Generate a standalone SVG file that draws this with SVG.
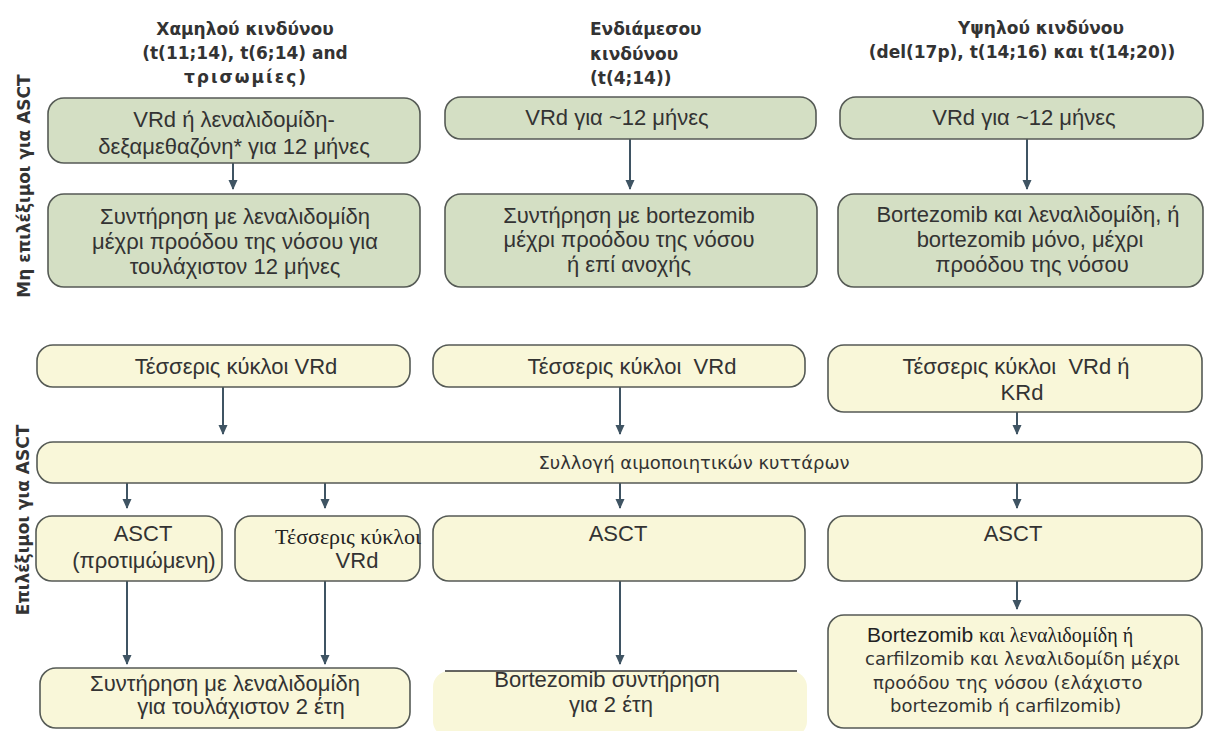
<svg xmlns="http://www.w3.org/2000/svg" width="1205" height="731" viewBox="0 0 1205 731">
  <style>
    .g { fill: #d4dfc4; stroke: #555a55; stroke-width: 1.6; }
    .y { fill: #f9f7d9; stroke: #555a55; stroke-width: 1.6; }
    .yf { fill: #f9f7d9; stroke: none; }
    .t { font-family: "Liberation Sans", Arial, sans-serif; font-size: 22px; fill: #333333; text-anchor: middle; }
    .d { font-family: "DejaVu Sans", Verdana, sans-serif; font-size: 18px; fill: #333333; }
    .s { font-family: "Liberation Serif", "Times New Roman", serif; fill: #222222; }
    .h { font-family: "DejaVu Sans", Verdana, sans-serif; font-size: 17px; font-weight: bold; fill: #333333; }
    .side { font-family: "DejaVu Sans", Verdana, sans-serif; font-size: 17px; font-weight: bold; fill: #333333; text-anchor: middle; }
    .c { stroke: #3f5463; stroke-width: 2; fill: none; marker-end: url(#ah); }
  </style>
  <defs>
    <marker id="ah" viewBox="0 0 10 10" refX="9" refY="5" markerWidth="10" markerHeight="10" markerUnits="userSpaceOnUse" orient="auto">
      <path d="M0,0.5 L10,5 L0,9.5 z" fill="#3f5463"/>
    </marker>
  </defs>
  <rect width="1205" height="731" fill="#ffffff"/>

  <!-- column headings -->
  <g id="head-low">
    <text class="h" x="245" y="35" text-anchor="middle">Χαμηλού κινδύνου</text>
    <text class="h" x="245" y="59" text-anchor="middle">(t(11;14), t(6;14) and</text>
    <text class="h" x="246" y="83" text-anchor="middle" letter-spacing="2">τρισωμίες)</text>
  </g>
  <g id="head-mid">
    <text class="h" x="590" y="35">Ενδιάμεσου</text>
    <text class="h" x="590" y="60">κινδύνου</text>
    <text class="h" x="590" y="84">(t(4;14))</text>
  </g>
  <g id="head-high">
    <text class="h" x="1041" y="34" text-anchor="middle">Υψηλού κινδύνου</text>
    <text class="h" x="1022" y="58" text-anchor="middle">(del(17p), t(14;16) και t(14;20))</text>
  </g>

  <!-- row labels -->
  <g id="label-ineligible">
    <text class="side" transform="translate(30,186) rotate(-90)">Μη επιλέξιμοι για ASCT</text>
  </g>
  <g id="label-eligible">
    <text class="side" transform="translate(29,520) rotate(-90)">Επιλέξιμοι για ASCT</text>
  </g>

  <!-- connectors -->
  <g id="connectors">
    <line class="c" x1="233" y1="163" x2="233" y2="189"/>
    <line class="c" x1="630" y1="139" x2="630" y2="189"/>
    <line class="c" x1="1027" y1="139" x2="1027" y2="189"/>
    <line class="c" x1="223" y1="387" x2="223" y2="434"/>
    <line class="c" x1="620" y1="387" x2="620" y2="434"/>
    <line class="c" x1="1017" y1="412" x2="1017" y2="434"/>
    <line class="c" x1="127" y1="483" x2="127" y2="508"/>
    <line class="c" x1="325" y1="483" x2="325" y2="508"/>
    <line class="c" x1="620" y1="483" x2="620" y2="508"/>
    <line class="c" x1="1017" y1="483" x2="1017" y2="508"/>
    <line class="c" x1="127" y1="581" x2="127" y2="664"/>
    <line class="c" x1="325" y1="581" x2="325" y2="664"/>
    <line class="c" x1="620" y1="581" x2="620" y2="664"/>
    <line class="c" x1="1017" y1="581" x2="1017" y2="609"/>
  </g>

  <!-- not eligible for transplant -->
  <g id="n-low-induction">
    <rect class="g" x="48" y="98" width="372" height="65" rx="16"/>
    <text class="t" x="234" y="127">VRd ή λεναλιδομίδη-</text>
    <text class="t" x="234" y="154">δεξαμεθαζόνη* για 12 μήνες</text>
  </g>
  <g id="n-low-maint">
    <rect class="g" x="48" y="194" width="372" height="93" rx="16"/>
    <text class="t" x="235" y="224">Συντήρηση με λεναλιδομίδη</text>
    <text class="t" x="235" y="249">μέχρι προόδου της νόσου για</text>
    <text class="t" x="235" y="274">τουλάχιστον 12 μήνες</text>
  </g>
  <g id="n-mid-induction">
    <rect class="g" x="445" y="97" width="371" height="42" rx="16"/>
    <text class="t" x="617" y="125">VRd για ~12 μήνες</text>
  </g>
  <g id="n-mid-maint">
    <rect class="g" x="445" y="194" width="372" height="93" rx="16"/>
    <text class="t" x="629" y="223">Συντήρηση με bortezomib</text>
    <text class="t" x="629" y="247">μέχρι προόδου της νόσου</text>
    <text class="t" x="629" y="272">ή επί ανοχής</text>
  </g>
  <g id="n-high-induction">
    <rect class="g" x="840" y="97" width="363" height="42" rx="16"/>
    <text class="t" x="1024" y="125">VRd για ~12 μήνες</text>
  </g>
  <g id="n-high-maint">
    <rect class="g" x="838" y="194" width="365" height="93" rx="16"/>
    <text class="t" x="1028" y="222">Bortezomib και λεναλιδομίδη, ή</text>
    <text class="t" x="1030" y="247">bortezomib μόνο, μέχρι</text>
    <text class="t" x="1032" y="272">προόδου της νόσου</text>
  </g>

  <!-- eligible for transplant -->
  <g id="e-low-induction">
    <rect class="y" x="37" y="345" width="373" height="42" rx="16"/>
    <text class="t" x="236" y="374">Τέσσερις κύκλοι VRd</text>
  </g>
  <g id="e-mid-induction">
    <rect class="y" x="433" y="345" width="372" height="42" rx="16"/>
    <text class="t" x="632" y="374" xml:space="preserve">Τέσσερις κύκλοι  VRd</text>
  </g>
  <g id="e-high-induction">
    <rect class="y" x="828" y="345" width="374" height="67" rx="16"/>
    <text class="t" x="1016" y="374" xml:space="preserve">Τέσσερις κύκλοι  VRd ή</text>
    <text class="t" x="1022" y="400">KRd</text>
  </g>
  <g id="e-collection">
    <rect class="y" x="37" y="442" width="1165" height="41" rx="16"/>
    <text class="d" x="694" y="469" text-anchor="middle">Συλλογή αιμοποιητικών κυττάρων</text>
  </g>
  <g id="e-low-asct">
    <rect class="y" x="36" y="516" width="186" height="65" rx="16"/>
    <text class="t" x="143" y="541">ASCT</text>
    <text class="t" x="144" y="568">(προτιμώμενη)</text>
  </g>
  <g id="e-low-vrd">
    <rect class="y" x="235" y="516" width="185" height="65" rx="16"/>
    <text class="s" x="275" y="544" font-size="22">Τέσσερις κύκλοι</text>
    <text class="t" x="357" y="568">VRd</text>
  </g>
  <g id="e-mid-asct">
    <rect class="y" x="433" y="516" width="372" height="65" rx="16"/>
    <text class="t" x="618" y="541">ASCT</text>
  </g>
  <g id="e-high-asct">
    <rect class="y" x="828" y="516" width="374" height="65" rx="16"/>
    <text class="t" x="1013" y="541">ASCT</text>
  </g>
  <g id="e-low-maint">
    <rect class="y" x="40" y="668" width="370" height="60" rx="16"/>
    <text class="t" x="225" y="691">Συντήρηση με λεναλιδομίδη</text>
    <text class="t" x="241" y="714">για τουλάχιστον 2 έτη</text>
  </g>
  <g id="e-mid-maint">
    <rect class="yf" x="433" y="671" width="374" height="66" rx="16"/>
    <line x1="445" y1="671" x2="797" y2="671" stroke="#333333" stroke-width="1.4"/>
    <text class="t" x="607" y="687">Bortezomib συντήρηση</text>
    <text class="t" x="611" y="712">για 2 έτη</text>
  </g>
  <g id="e-high-maint">
    <rect class="y" x="828" y="615" width="374" height="113" rx="16"/>
    <text x="867" y="642" fill="#222222"><tspan font-family="Liberation Sans, Arial, sans-serif" font-size="21px">Bortezomib </tspan><tspan class="s" font-size="20px">και λεναλιδομίδη ή</tspan></text>
    <text class="d" x="865" y="665">carfilzomib και λεναλιδομίδη μέχρι</text>
    <text class="d" x="873" y="689">προόδου της νόσου (ελάχιστο</text>
    <text class="d" x="890" y="712">bortezomib ή carfilzomib)</text>
  </g>
</svg>
